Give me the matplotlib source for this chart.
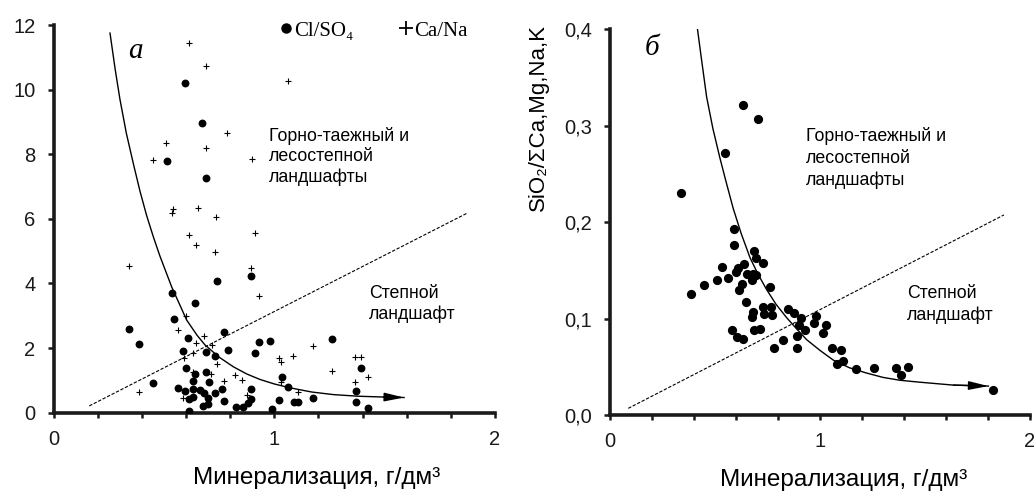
import matplotlib
matplotlib.use("Agg")
import matplotlib.pyplot as plt
from matplotlib.lines import Line2D
from matplotlib.ticker import MultipleLocator

plt.rcParams['font.family'] = ['Liberation Sans', 'DejaVu Sans']

# ---------------- Panel а: Cl/SO4 and Ca/Na vs mineralisation ----------------
clso4_x = [0.596, 0.674, 0.513, 0.691, 0.739, 0.894, 0.535, 0.641, 0.547, 0.340,
           0.387, 0.449, 0.611, 0.585, 0.599, 0.689, 0.732, 0.774, 0.789, 0.689,
           0.641, 0.633, 0.706, 0.562, 0.596, 0.633, 0.664, 0.683, 0.732, 0.762,
           0.614, 0.633, 0.676, 0.699, 0.701, 0.772, 0.615, 0.825, 0.857, 0.881,
           0.895, 0.895, 0.913, 0.932, 0.981, 0.991, 1.021, 1.034, 1.061, 1.089,
           1.106, 1.177, 1.263, 1.369, 1.370, 1.393, 1.423]
clso4_y = [10.2, 8.98, 7.78, 7.26, 4.09, 4.23, 3.70, 3.41, 2.90, 2.59,
           2.13, 0.91, 2.30, 1.92, 1.37, 1.87, 1.75, 2.49, 1.94, 1.27,
           1.20, 0.99, 0.96, 0.75, 0.68, 0.73, 0.70, 0.60, 0.60, 0.72,
           0.42, 0.48, 0.21, 0.26, 0.45, 0.37, 0.05, 0.19, 0.17, 0.29,
           0.42, 0.72, 1.84, 2.20, 2.23, 0.11, 0.39, 1.11, 0.79, 0.32,
           0.32, 0.45, 2.27, 0.67, 0.34, 1.37, 0.15]

cana_x = [0.614, 0.689, 1.061, 0.787, 0.510, 0.689, 0.451, 0.901, 0.543, 0.535,
          0.653, 0.736, 0.913, 0.614, 0.644, 0.732, 0.342, 0.893, 0.932, 0.599,
          0.565, 0.683, 0.644, 0.717, 0.633, 0.593, 0.739, 0.631, 0.713, 0.822,
          0.852, 0.772, 0.585, 0.875, 1.021, 1.029, 1.029, 1.086, 1.106, 1.177,
          1.263, 1.366, 1.392, 1.366, 1.426, 0.387]
cana_y = [11.44, 10.74, 10.28, 8.65, 8.36, 8.19, 7.83, 7.85, 6.30, 6.17,
          6.35, 6.05, 5.57, 5.49, 5.19, 4.97, 4.54, 4.49, 3.62, 3.00,
          2.56, 2.37, 2.17, 2.10, 1.84, 1.68, 1.52, 1.27, 1.20, 1.17,
          1.01, 0.99, 0.45, 0.54, 1.68, 1.58, 0.96, 1.76, 0.65, 2.07,
          1.29, 1.71, 1.71, 0.96, 1.10, 0.65]

# trend curve and boundary line
curve_a_x = [0.256, 0.280, 0.301, 0.330, 0.362, 0.392, 0.422, 0.452, 0.482, 0.535,
             0.603, 0.650, 0.686, 0.750, 0.815, 0.875, 0.935, 1.000, 1.071, 1.170,
             1.268, 1.380, 1.494, 1.588]
curve_a_y = [11.75, 10.60, 9.70, 8.65, 7.70, 6.85, 6.10, 5.45, 4.85, 3.90,
             2.87, 2.40, 2.10, 1.72, 1.42, 1.20, 1.03, 0.89, 0.77, 0.64,
             0.56, 0.51, 0.485, 0.47]
bound_a_x = [0.162, 1.872]
bound_a_y = [0.21, 6.17]

# ---------------- Panel б: SiO2/ΣCa,Mg,Na,K vs mineralisation ----------------
si_x = [0.635, 0.703, 0.546, 0.338, 0.592, 0.590, 0.686, 0.694, 0.727, 0.638,
        0.535, 0.608, 0.598, 0.651, 0.680, 0.694, 0.560, 0.678, 0.508, 0.448,
        0.630, 0.616, 0.762, 0.385, 0.648, 0.683, 0.730, 0.767, 0.733, 0.770,
        0.675, 0.849, 0.878, 0.910, 0.981, 0.900, 0.973, 1.027, 0.929, 1.016,
        0.583, 0.686, 0.714, 0.606, 0.635, 0.889, 0.822, 0.783, 0.889, 1.059,
        1.099, 1.083, 1.111, 1.170, 1.257, 1.362, 1.417, 1.386, 1.822]
si_y = [0.322, 0.307, 0.272, 0.230, 0.193, 0.176, 0.170, 0.163, 0.158, 0.157,
        0.154, 0.152, 0.148, 0.146, 0.146, 0.145, 0.142, 0.140, 0.140, 0.135,
        0.136, 0.130, 0.133, 0.126, 0.117, 0.107, 0.112, 0.112, 0.105, 0.104,
        0.102, 0.110, 0.106, 0.101, 0.103, 0.093, 0.095, 0.093, 0.088, 0.085,
        0.088, 0.088, 0.089, 0.081, 0.079, 0.082, 0.078, 0.069, 0.069, 0.069,
        0.067, 0.053, 0.056, 0.048, 0.049, 0.049, 0.050, 0.041, 0.026]

curve_b_x = [0.413, 0.435, 0.460, 0.490, 0.524, 0.555, 0.587, 0.625, 0.667, 0.705,
             0.746, 0.790, 0.841, 0.890, 0.937, 1.000, 1.063, 1.140, 1.222, 1.300,
             1.381, 1.476, 1.635, 1.802]
curve_b_y = [0.406, 0.370, 0.330, 0.297, 0.266, 0.240, 0.214, 0.188, 0.163, 0.146,
             0.130, 0.115, 0.101, 0.089, 0.078, 0.067, 0.057, 0.049, 0.0435, 0.039,
             0.036, 0.034, 0.031, 0.030]
bound_b_x = [0.087, 1.876]
bound_b_y = [0.0069, 0.2075]

x_ticks = [0, 1, 2]
x_ticklabels = ['0', '1', '2']
ya_ticks = [0, 2, 4, 6, 8, 10, 12]
ya_ticklabels = ['0', '2', '4', '6', '8', '10', '12']
yb_ticks = [0.0, 0.1, 0.2, 0.3, 0.4]
yb_ticklabels = ['0,0', '0,1', '0,2', '0,3', '0,4']

xlabel = 'Минерализация, г/дм³'
ylabel_b = 'SiO₂/ΣCa,Mg,Na,K'
zone_forest = 'Горно-таежный и\nлесостепной\nландшафты'
zone_steppe = 'Степной\nландшафт'

W, H = 1034, 492
fig = plt.figure(figsize=(W / 100, H / 100), dpi=100)
ax1 = fig.add_axes([53.5 / W, 1 - 412.7 / H, 441.5 / W, 387.7 / H])
ax2 = fig.add_axes([610 / W, 1 - 415 / H, 420 / W, 385.7 / H])

SERIF = ['Liberation Serif', 'DejaVu Serif']
INK = '#1a1a1a'


def style_axes(ax, yticks, yticklabels):
    for s in ('top', 'right'):
        ax.spines[s].set_visible(False)
    for s in ('left', 'bottom'):
        ax.spines[s].set_linewidth(2.6)
        ax.spines[s].set_color(INK)
    ax.set_xlim(0, 2)
    ax.set_xticks(x_ticks)
    ax.set_xticklabels(x_ticklabels)
    ax.xaxis.set_minor_locator(MultipleLocator(0.2))
    ax.set_yticks(yticks)
    ax.set_yticklabels(yticklabels)
    ax.set_ylim(yticks[0], yticks[-1])
    ax.tick_params(axis='x', which='both', direction='out', length=3.5, width=1.8,
                   pad=9, labelsize=14.5, colors=INK)
    ax.tick_params(axis='y', which='major', direction='out', length=4.5, width=1.8,
                   pad=8.5, labelsize=14.5, colors=INK)


style_axes(ax1, ya_ticks, ya_ticklabels)
style_axes(ax2, yb_ticks, yb_ticklabels)

# Panel а
ax1.plot(bound_a_x, bound_a_y, color='black', lw=0.8, ls=(0, (3, 1.5)))
ax1.plot(curve_a_x, curve_a_y, color='black', lw=1.0)
ax1.annotate('', xy=(curve_a_x[-1], curve_a_y[-1]), xytext=(curve_a_x[-2], curve_a_y[-2]),
             arrowprops=dict(arrowstyle='-|>,head_length=1.0,head_width=0.22',
                             color='black', lw=1.0, shrinkA=0, shrinkB=0,
                             mutation_scale=12))
ax1.scatter(clso4_x, clso4_y, s=32, color='black', marker='o', linewidths=0, zorder=3)
ax1.scatter(cana_x, cana_y, s=22, color='black', marker='+', linewidths=0.8, zorder=3)

ax1.text(0.373, 11.18, 'а', family=SERIF, style='italic', fontsize=21,
         ha='center', va='center')
ax1.text(0.977, 8.85, zone_forest, fontsize=12.8, ha='left', va='top', linespacing=1.25)
ax1.text(1.43, 3.95, zone_steppe, fontsize=12.8, ha='left', va='top', linespacing=1.25)

handles = [Line2D([], [], ls='none', marker='o', color='black', markersize=6.5),
           Line2D([], [], ls='none', marker='+', color='black', markersize=9.5,
                  markeredgewidth=1.3)]
ax1.legend(handles, ['Cl/SO₄', 'Ca/Na'], ncol=2, frameon=False,
           loc='upper left', bbox_to_anchor=(0.515, 1.01),
           borderaxespad=0, borderpad=0, handlelength=0.5, handletextpad=0.12,
           columnspacing=2.3, prop=dict(family=SERIF, size=15))

ax1.set_xlabel(xlabel, fontsize=17.5, va='center')
ax1.xaxis.set_label_coords(0.597, -0.168)

# Panel б
ax2.plot(bound_b_x, bound_b_y, color='black', lw=0.8, ls=(0, (3, 1.5)))
ax2.plot(curve_b_x, curve_b_y, color='black', lw=1.0)
ax2.annotate('', xy=(curve_b_x[-1], curve_b_y[-1]), xytext=(curve_b_x[-2], curve_b_y[-2]),
             arrowprops=dict(arrowstyle='-|>,head_length=1.0,head_width=0.22',
                             color='black', lw=1.0, shrinkA=0, shrinkB=0,
                             mutation_scale=12))
ax2.scatter(si_x, si_y, s=44, color='black', marker='o', linewidths=0, zorder=3)

ax2.text(0.2, 0.381, 'б', family=SERIF, style='italic', fontsize=21,
         ha='center', va='center')
ax2.text(0.933, 0.299, zone_forest, fontsize=12.8, ha='left', va='top', linespacing=1.38)
ax2.text(1.413, 0.135, zone_steppe, fontsize=12.8, ha='left', va='top', linespacing=1.38)

ax2.set_xlabel(xlabel, fontsize=17.5, va='center')
ax2.xaxis.set_label_coords(0.557, -0.168)
ax2.set_ylabel(ylabel_b, fontsize=16, va='center')
ax2.yaxis.set_label_coords(-0.171, 0.771)

fig.savefig('out.png', dpi=100)
